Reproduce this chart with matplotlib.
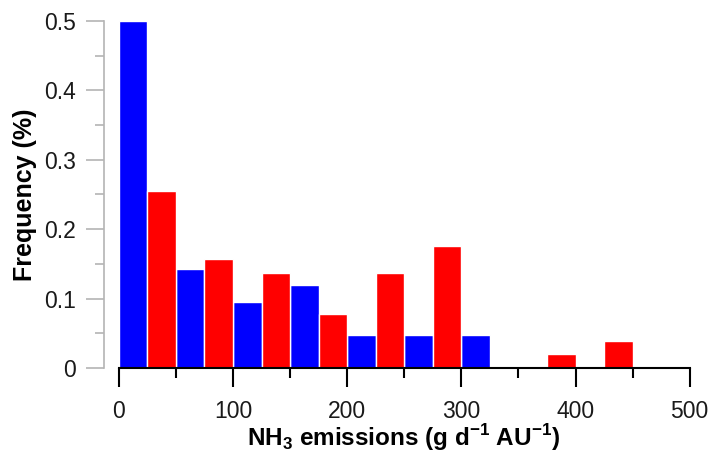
import matplotlib
matplotlib.use("Agg")
import matplotlib.pyplot as plt
from matplotlib.ticker import MultipleLocator, FuncFormatter

plt.rcParams['font.family'] = ['Liberation Sans', 'DejaVu Sans']
plt.rcParams['mathtext.fontset'] = 'custom'
plt.rcParams['mathtext.rm'] = 'Liberation Sans:bold'
plt.rcParams['mathtext.bf'] = 'Liberation Sans:bold'

# bin left edges (g d-1 AU-1), bin width 25
blue_left = [0, 50, 100, 150, 200, 250, 300]
blue_freq = [0.500, 0.143, 0.095, 0.119, 0.048, 0.048, 0.048]
red_left = [25, 75, 125, 175, 225, 275, 375, 425]
red_freq = [0.255, 0.157, 0.137, 0.078, 0.137, 0.176, 0.020, 0.039]
bin_width = 25

fig = plt.figure(figsize=(7.1, 4.54), dpi=100)
ax = fig.add_axes([104 / 710, 86 / 454, (692 - 104) / 710, 347 / 454])

ax.bar(blue_left, blue_freq, width=bin_width, align='edge', color='#0000ff',
       edgecolor='white', linewidth=1, clip_on=False)
ax.bar(red_left, red_freq, width=bin_width, align='edge', color='#ff0000',
       edgecolor='white', linewidth=1, clip_on=False)

ax.set_xlim(-13, 502)
ax.set_ylim(0, 0.5)

for s in ['top', 'right']:
    ax.spines[s].set_visible(False)
ax.spines['left'].set_color('#b4b4b4')
ax.spines['left'].set_linewidth(1.2)
ax.spines['bottom'].set_bounds(0, 500)
ax.spines['bottom'].set_linewidth(1.5)
ax.spines['bottom'].set_zorder(5)

ax.xaxis.set_major_locator(MultipleLocator(100))
ax.xaxis.set_minor_locator(MultipleLocator(50))
ax.yaxis.set_major_locator(MultipleLocator(0.1))
ax.yaxis.set_minor_locator(MultipleLocator(0.05))
ax.set_xticks([0, 100, 200, 300, 400, 500])
ax.yaxis.set_major_formatter(FuncFormatter(lambda v, p: '0' if v == 0 else f'{v:.1f}'))

ax.tick_params(axis='x', which='major', length=14, width=1.5, color='black',
               direction='out', labelsize=16.5, pad=9, labelcolor='#1a1a1a')
ax.tick_params(axis='x', which='minor', length=7, width=1.5, color='black', direction='out')
ax.tick_params(axis='y', which='major', length=13, width=1.2, color='#b4b4b4',
               direction='out', labelsize=16.5, pad=7, labelcolor='#1a1a1a')
ax.tick_params(axis='y', which='minor', length=6.5, width=1.2, color='#b4b4b4', direction='out')

ax.set_xlabel(r'NH$_3$ emissions (g d$^{-1}$ AU$^{-1}$)', fontsize=17.5,
              fontweight='bold')
ax.xaxis.set_label_coords((119 + 285 - 104) / (692 - 104), -0.155)
ax.set_ylabel('Frequency (%)', fontsize=18, fontweight='bold')
ax.yaxis.set_label_coords(-0.114, 0.5)

fig.savefig('out.png', dpi=100)
